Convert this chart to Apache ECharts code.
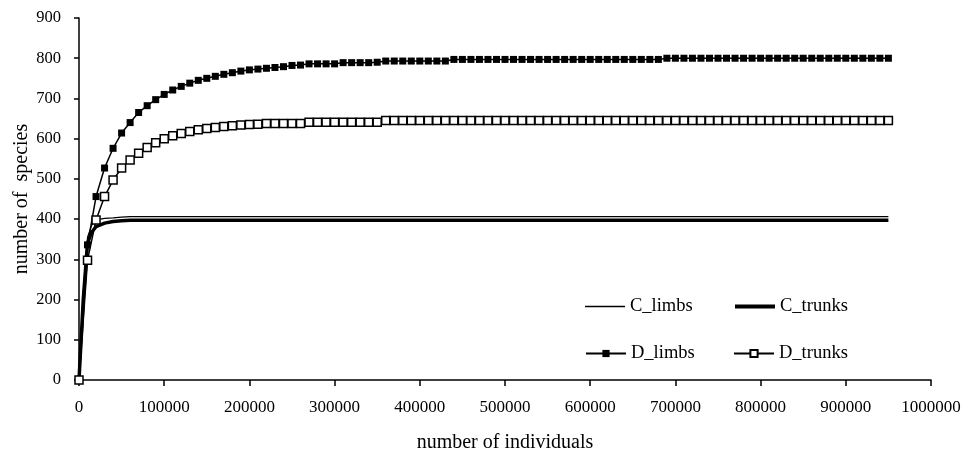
<!DOCTYPE html>
<html>
<head>
<meta charset="utf-8">
<script src="https://cdn.jsdelivr.net/npm/echarts@6/dist/echarts.min.js"></script>
<style>
  html, body { margin: 0; padding: 0; background: #fff; }
  #chart { width: 967px; height: 454px; }
</style>
</head>
<body>
<div id="chart"></div>
<script>
// x positions of the C curves (no markers, sparse sampling)
const cX = [0, 5000, 10000, 15000, 20000, 30000, 40000, 50000, 60000, 100000,
  200000, 300000, 400000, 500000, 600000, 700000, 800000, 900000, 950000]
const cLimbs = [0, 220, 355, 385, 398, 402, 403, 405, 406, 406,
  406, 406, 406, 406, 406, 406, 406, 406, 406]
const cTrunks = [0, 200, 340, 368, 381, 390, 394, 396, 397, 397,
  397, 397, 397, 397, 397, 397, 397, 397, 397]

// x positions of the D curves (one marker every 10000 individuals)
const dX = [
  0, 10000, 20000, 30000, 40000, 50000, 60000, 70000, 80000, 90000,
  100000, 110000, 120000, 130000, 140000, 150000, 160000, 170000, 180000, 190000,
  200000, 210000, 220000, 230000, 240000, 250000, 260000, 270000, 280000, 290000,
  300000, 310000, 320000, 330000, 340000, 350000, 360000, 370000, 380000, 390000,
  400000, 410000, 420000, 430000, 440000, 450000, 460000, 470000, 480000, 490000,
  500000, 510000, 520000, 530000, 540000, 550000, 560000, 570000, 580000, 590000,
  600000, 610000, 620000, 630000, 640000, 650000, 660000, 670000, 680000, 690000,
  700000, 710000, 720000, 730000, 740000, 750000, 760000, 770000, 780000, 790000,
  800000, 810000, 820000, 830000, 840000, 850000, 860000, 870000, 880000, 890000,
  900000, 910000, 920000, 930000, 940000, 950000
]
const dLimbs = [
  0, 336, 456, 527, 576, 614, 640, 665, 682, 697,
  710, 721, 730, 738, 745, 750, 755, 760, 764, 768,
  771, 773, 775, 777, 779, 782, 783, 786, 786, 786,
  786, 789, 789, 789, 789, 790, 793, 793, 793, 793,
  793, 793, 793, 793, 797, 797, 797, 797, 797, 797,
  797, 797, 797, 797, 797, 797, 797, 797, 797, 797,
  797, 797, 797, 797, 797, 797, 797, 797, 797, 800,
  800, 800, 800, 800, 800, 800, 800, 800, 800, 800,
  800, 800, 800, 800, 800, 800, 800, 800, 800, 800,
  800, 800, 800, 800, 800, 800
]
const dTrunks = [
  0, 298, 398, 456, 497, 527, 547, 564, 578, 590,
  600, 607, 613, 618, 622, 625, 628, 630, 632, 634,
  635, 636, 638, 638, 638, 638, 638, 641, 641, 641,
  641, 641, 641, 641, 641, 641, 645, 645, 645, 645,
  645, 645, 645, 645, 645, 645, 645, 645, 645, 645,
  645, 645, 645, 645, 645, 645, 645, 645, 645, 645,
  645, 645, 645, 645, 645, 645, 645, 645, 645, 645,
  645, 645, 645, 645, 645, 645, 645, 645, 645, 645,
  645, 645, 645, 645, 645, 645, 645, 645, 645, 645,
  645, 645, 645, 645, 645, 645
]

const yTicks = [0, 100, 200, 300, 400, 500, 600, 700, 800, 900]

const font = 'Liberation Serif'
const pairs = (xs, ys) => xs.map((x, i) => [x, ys[i]])
const legendText = {fontFamily: font, fontSize: 18.5, color: '#000'}

// one legend box per entry so each line sample can get its own thickness
const legendBox = (name, left, top, extra) => Object.assign({
  data: [name], left, top, padding: 0,
  itemWidth: 40, itemHeight: 9,
  textStyle: legendText
}, extra)

const myChart = echarts.init(document.getElementById('chart'))
myChart.setOption({
  animation: false,
  backgroundColor: '#fff',
  textStyle: {fontFamily: font, color: '#000'},
  grid: {left: 79, right: 36, top: 18, bottom: 74, outerBoundsMode: 'none', containLabel: false},
  legend: [
    legendBox('C_limbs', 585, 297, {itemHeight: 1.3, icon: 'rect'}),
    legendBox('C_trunks', 735, 297, {itemHeight: 4, icon: 'rect'}),
    legendBox('D_limbs', 585, 344),
    legendBox('D_trunks', 733, 344)
  ],
  xAxis: {
    type: 'value',
    min: 0, max: 1000000, interval: 100000,
    name: 'number of individuals',
    nameLocation: 'middle', nameGap: 53,
    nameTextStyle: {fontFamily: font, fontSize: 20, color: '#000'},
    axisLine: {lineStyle: {color: '#000', width: 1.5}},
    axisTick: {length: 6, lineStyle: {color: '#000', width: 1.5}},
    axisLabel: {
      margin: 19, fontFamily: font, fontSize: 17, color: '#000',
      formatter: v => String(v)
    },
    splitLine: {show: false}
  },
  yAxis: {
    type: 'value',
    min: yTicks[0], max: yTicks[yTicks.length - 1], interval: 100,
    name: 'number of  species',
    nameLocation: 'middle', nameGap: 47, nameMoveOverlap: false,
    nameTextStyle: {fontFamily: font, fontSize: 20, color: '#000'},
    axisLine: {show: true, lineStyle: {color: '#000', width: 1.5}},
    axisTick: {show: true, length: 5, lineStyle: {color: '#000', width: 1.5}},
    axisLabel: {margin: 18, fontFamily: font, fontSize: 16.5, color: '#000'},
    splitLine: {show: false}
  },
  series: [
    {
      name: 'C_limbs', type: 'line', data: pairs(cX, cLimbs),
      symbol: 'none', lineStyle: {color: '#000', width: 1.2},
      itemStyle: {color: '#000'}, z: 3
    },
    {
      name: 'C_trunks', type: 'line', data: pairs(cX, cTrunks),
      symbol: 'none', lineStyle: {color: '#000', width: 3.5},
      itemStyle: {color: '#000'}, z: 3
    },
    {
      name: 'D_limbs', type: 'line', data: pairs(dX, dLimbs),
      symbol: 'rect', symbolSize: 7,
      lineStyle: {color: '#000', width: 1.5},
      itemStyle: {color: '#000', borderColor: '#000', borderWidth: 0}, z: 4
    },
    {
      name: 'D_trunks', type: 'line', data: pairs(dX, dTrunks),
      symbol: 'rect', symbolSize: 8,
      lineStyle: {color: '#000', width: 1.5},
      itemStyle: {color: '#fff', borderColor: '#000', borderWidth: 1.5}, z: 5
    }
  ]
})
window.addEventListener('resize', () => myChart.resize())
</script>
</body>
</html>
